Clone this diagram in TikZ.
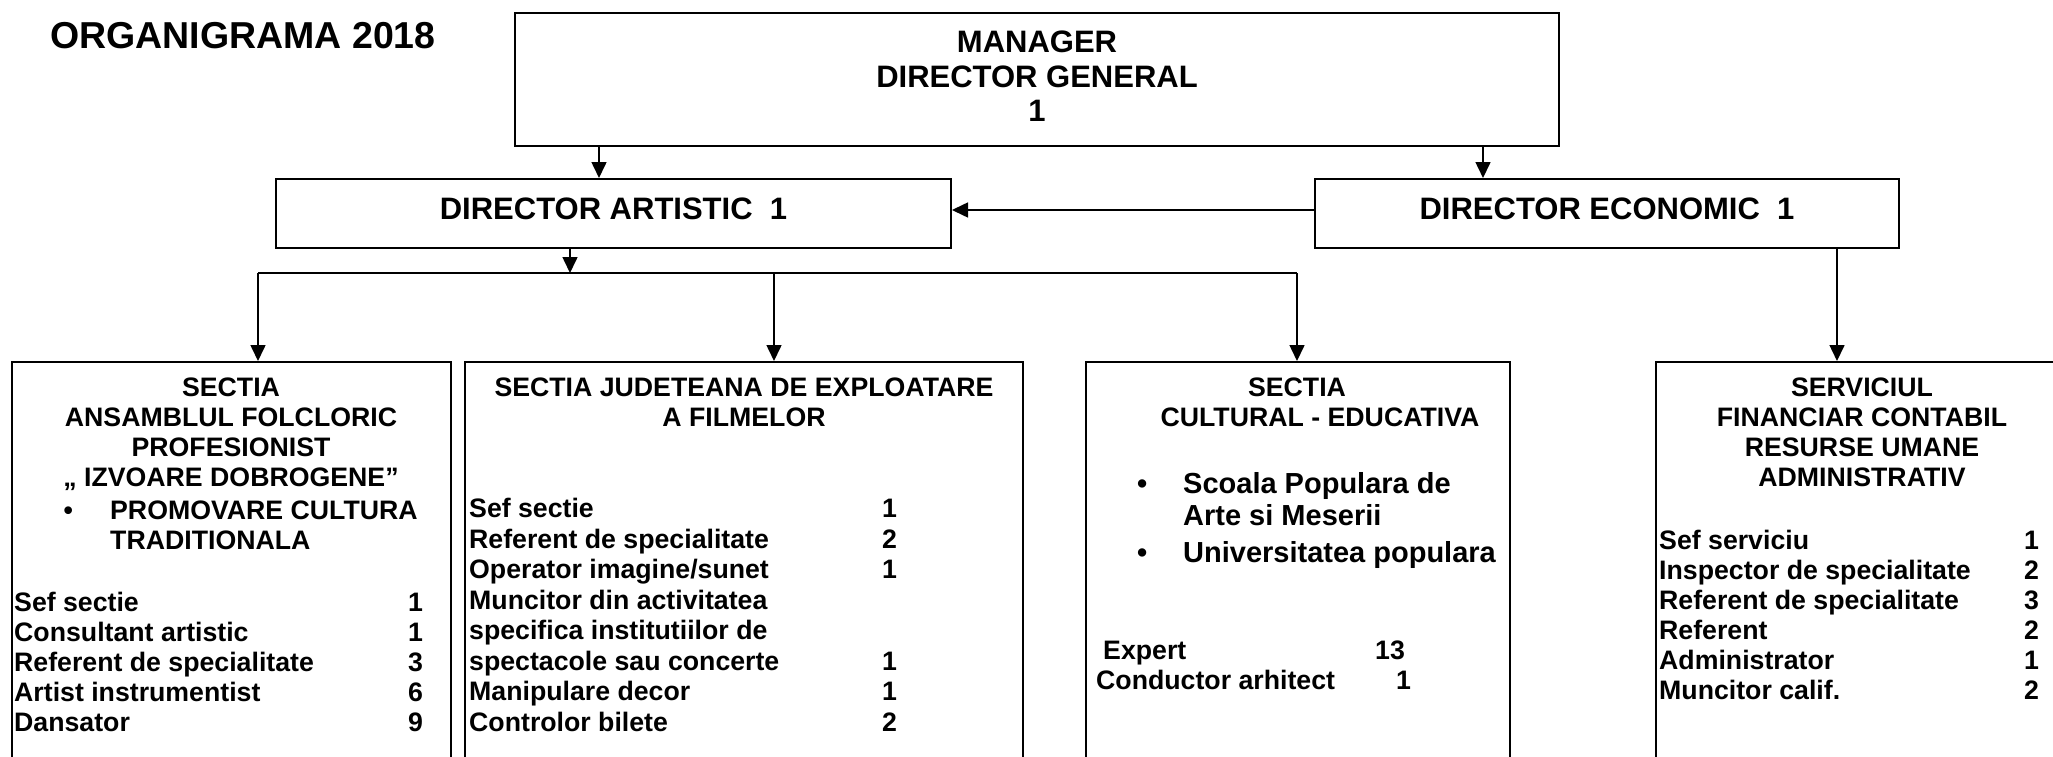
\documentclass[tikz,border=0pt]{standalone}
\usepackage{fontspec}
\setmainfont{Liberation Sans}
\usetikzlibrary{arrows.meta}
\usetikzlibrary{positioning}
\newcommand{\postrow}[3]{\makebox[#1][l]{#2}#3}

\begin{document}
\begin{tikzpicture}[x=1pt, y=-1pt,
	box/.style={draw, line width=2pt, inner sep=0pt},
	big/.style={inner sep=0pt, align=center, font={\fontsize{31}{34.5}\selectfont\bfseries}},
	lbl/.style={inner sep=0pt, font={\fontsize{26.7}{30}\selectfont\bfseries}},
	arr/.style={line width=1.6pt, -{Triangle[length=16pt,width=15pt]}}]
	\useasboundingbox (0,0) rectangle (2053,757);
	\node[anchor=base west, inner sep=0pt, font={\fontsize{37.5}{42}\selectfont\bfseries}] (title) at (50,49) {ORGANIGRAMA 2018};
	\node[box, big, text depth=6pt, minimum width=1044pt, minimum height=133pt] (mgr) at (1037,79.5) {MANAGER\\DIRECTOR GENERAL\\1};
	\node[box, big, text depth=10pt, minimum width=675pt, minimum height=69pt] (dirart) at (613.5,213.5) {DIRECTOR ARTISTIC\ \ 1};
	\node[box, big, text depth=10pt, minimum width=584pt, minimum height=69pt] (direc) at (1607,213.5) {DIRECTOR ECONOMIC\ \ 1};
	\node[box, minimum width=439pt, minimum height=438pt] (sec1) at (231.5,581) {};
	\node[box, minimum width=558pt, minimum height=438pt] (sec2) at (744,581) {};
	\node[box, minimum width=424pt, minimum height=438pt] (sec3) at (1298,581) {};
	\node[box, minimum width=412pt, minimum height=438pt] (sec4) at (1862,581) {};
	% sectia ansamblu
	\node[lbl, anchor=base] (s1head) at (231,396.6) {\begin{tabular}[t]{@{}c@{}}SECTIA\\ANSAMBLUL FOLCLORIC\\PROFESIONIST\\„ IZVOARE DOBROGENE”\end{tabular}};
	\node[lbl, anchor=base west] (s1bul) at (63.5,519.6) {\begin{tabular}[t]{@{}l@{}}\makebox[46.5pt][l]{\textbullet}PROMOVARE CULTURA\\\hspace{46.5pt}TRADITIONALA\end{tabular}};
	\node[lbl, anchor=base west] (s1staff) at (14,611.6) {\begin{tabular}[t]{@{}l@{}}
		\postrow{394pt}{Sef sectie}{1}\\
		\postrow{394pt}{Consultant artistic}{1}\\
		\postrow{394pt}{Referent de specialitate}{3}\\
		\postrow{394pt}{Artist instrumentist}{6}\\
		\postrow{394pt}{Dansator}{9}\end{tabular}};
	% sectia filme
	\node[lbl, anchor=base] (s2head) at (744,396.6) {\begin{tabular}[t]{@{}c@{}}SECTIA JUDETEANA DE EXPLOATARE\\A FILMELOR\end{tabular}};
	\node[lbl, anchor=base west, font={\fontsize{26.7}{30.5}\selectfont\bfseries}] (s2staff) at (469,517.6) {\begin{tabular}[t]{@{}l@{}}
		\postrow{413pt}{Sef sectie}{1}\\
		\postrow{413pt}{Referent de specialitate}{2}\\
		\postrow{413pt}{Operator imagine/sunet}{1}\\
		Muncitor din activitatea\\
		specifica institutiilor de\\
		\postrow{413pt}{spectacole sau concerte}{1}\\
		\postrow{413pt}{Manipulare decor}{1}\\
		\postrow{413pt}{Controlor bilete}{2}\end{tabular}};
	% sectia cultural
	\node[lbl, anchor=base] (s3head) at (1297,396.6) {\begin{tabular}[t]{@{}c@{}}SECTIA\\\hspace{46pt}CULTURAL - EDUCATIVA\end{tabular}};
	\node[lbl, anchor=base west, font={\fontsize{29}{32}\selectfont\bfseries}] (s3bul) at (1137,493.4) {\begin{tabular}[t]{@{}l@{}}
		\makebox[46pt][l]{\textbullet}Scoala Populara de\\
		\hspace{46pt}Arte si Meserii\\[5pt]
		\makebox[46pt][l]{\textbullet}Universitatea populara\end{tabular}};
	\node[lbl, anchor=base west] (s3staff) at (1096,659.6) {\begin{tabular}[t]{@{}l@{}}
		\postrow{279pt}{\hspace{7pt}Expert}{13}\\
		\postrow{300pt}{Conductor arhitect}{1}\end{tabular}};
	% serviciul financiar
	\node[lbl, anchor=base] (s4head) at (1862,396.6) {\begin{tabular}[t]{@{}c@{}}SERVICIUL\\FINANCIAR CONTABIL\\RESURSE UMANE\\ADMINISTRATIV\end{tabular}};
	\node[lbl, anchor=base west] (s4staff) at (1659,549.6) {\begin{tabular}[t]{@{}l@{}}
		\postrow{365pt}{Sef serviciu}{1}\\
		\postrow{365pt}{Inspector de specialitate}{2}\\
		\postrow{365pt}{Referent de specialitate}{3}\\
		\postrow{365pt}{Referent}{2}\\
		\postrow{365pt}{Administrator}{1}\\
		\postrow{365pt}{Muncitor calif.}{2}\end{tabular}};
	\coordinate (busL) at (258,273);
	\coordinate (busM) at (570,273);
	\coordinate (busR) at (1297,273);
	\draw[line width=1.6pt] (busL) -- (busR);
	\path[arr]
	(599,0 |- mgr.south) edge (599,0 |- dirart.north)
	(1483,0 |- mgr.south) edge (1483,0 |- direc.north)
	(direc.west |- 0,210) edge (dirart.east |- 0,210)
	(busM |- dirart.south) edge (busM)
	(busL) edge (busL |- sec1.north)
	(774,273) edge (774,0 |- sec2.north)
	(busR) edge (busR |- sec3.north)
	(1837,0 |- direc.south) edge (1837,0 |- sec4.north)
	;
\end{tikzpicture}
\end{document}
